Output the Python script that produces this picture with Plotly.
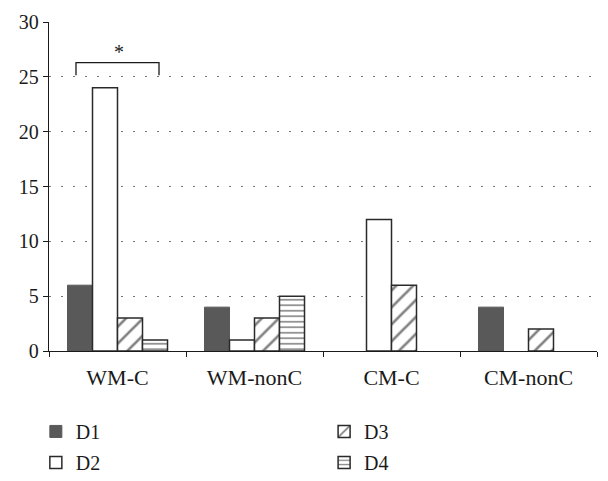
import plotly.graph_objects as go

categories = ["WM-C", "WM-nonC", "CM-C", "CM-nonC"]
d1 = [6, 4, 0, 4]
d2 = [24, 1, 12, 0]
d3 = [3, 3, 6, 2]
d4 = [1, 5, 0, 0]
y_ticks = [0, 5, 10, 15, 20, 25, 30]

FONT = "Liberation Serif"
INK = "#1a1a1a"


def edge(vals, w):
    return [w if v > 0 else 0 for v in vals]


fig = go.Figure()
fig.add_trace(go.Bar(name="D1", x=categories, y=d1, legend="legend", legendgroup="a",
                     marker=dict(color="#595959", line=dict(color="#595959", width=edge(d1, 1)))))
fig.add_trace(go.Bar(name="D2", x=categories, y=d2, legend="legend", legendgroup="b",
                     marker=dict(color="white", line=dict(color="#2a2a2a", width=edge(d2, 1.5)))))
fig.add_trace(go.Bar(name="D3", x=categories, y=d3, legend="legend2", legendgroup="c",
                     marker=dict(color="white", line=dict(color="#2a2a2a", width=edge(d3, 1.5)),
                                 pattern=dict(shape="/", fgcolor="#000000", bgcolor="white",
                                              size=12, solidity=0.22))))
fig.add_trace(go.Bar(name="D4", x=categories, y=d4, legend="legend2", legendgroup="d",
                     marker=dict(color="white", line=dict(color="#2a2a2a", width=edge(d4, 1.5)),
                                 pattern=dict(shape="-", fgcolor="#000000", bgcolor="white",
                                              size=5.5, solidity=0.28))))

# significance bracket over WM-C
fig.add_shape(type="path", xref="x", yref="y",
              path="M -0.303 25.15 L -0.303 26.3 L 0.303 26.3 L 0.303 25.15",
              line=dict(color=INK, width=1.3))
fig.add_annotation(x=0.01, y=27.3, xref="x", yref="y", text="*", showarrow=False,
                   font=dict(family=FONT, size=20, color=INK))

leg_common = dict(orientation="v", yref="container", yanchor="top", y=0.146,
                  font=dict(family=FONT, size=20, color=INK), tracegroupgap=2,
                  bgcolor="rgba(0,0,0,0)", itemwidth=30)
fig.update_layout(
    width=600, height=473,
    margin=dict(l=41, r=11, t=14, b=130),
    paper_bgcolor="white", plot_bgcolor="white",
    barmode="group", bargap=0.27, bargroupgap=0,
    font=dict(family=FONT, size=20, color=INK),
    legend=dict(x=-0.024, xanchor="left", **leg_common),
    legend2=dict(x=0.502, xanchor="left", **leg_common),
    xaxis=dict(showline=True, linecolor=INK, linewidth=1.3, ticks="outside",
               tickson="boundaries", ticklen=5, tickcolor=INK, showgrid=False,
               automargin=False, ticklabelstandoff=6,
               tickfont=dict(family=FONT, size=22, color=INK)),
    yaxis=dict(range=[0, 30], tickvals=y_ticks, showline=True, linecolor=INK,
               linewidth=1.3, ticks="outside", ticklen=5, tickcolor=INK,
               showgrid=True, gridcolor="#777777", griddash="2px,10px", gridwidth=1,
               zeroline=False, automargin=False,
               tickfont=dict(family=FONT, size=20, color=INK)),
)
fig.write_html("out.html")
